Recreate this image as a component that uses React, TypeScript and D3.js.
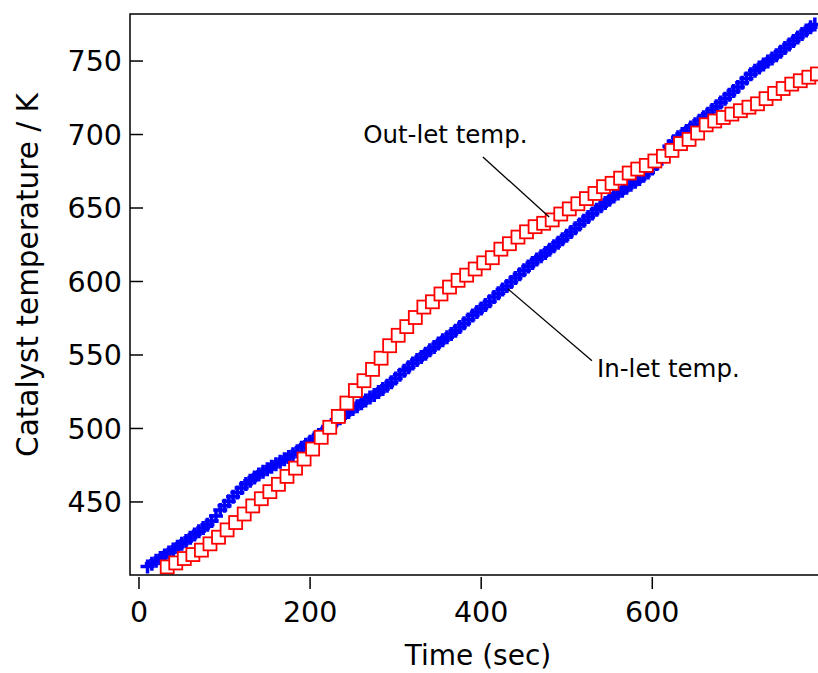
import React from "react";
import * as d3 from "d3";

const inletTimes: number[] = [
  10,15,20,25,30,35,40,45,50,55,60,65,70,75,80,85,90,95,100,105,110,115,120,125,130,135,140,145,150,155,160,165,170,175,180,185,190,195,
  200,205,210,215,220,225,230,235,240,245,250,255,260,265,270,275,280,285,290,295,300,305,310,315,320,325,330,335,340,345,350,355,360,365,370,375,380,385,390,395,
  400,405,410,415,420,425,430,435,440,445,450,455,460,465,470,475,480,485,490,495,500,505,510,515,520,525,530,535,540,545,550,555,560,565,570,575,580,585,590,595,
  600,605,610,615,620,625,630,635,640,645,650,655,660,665,670,675,680,685,690,695,700,705,710,715,720,725,730,735,740,745,750,755,760,765,770,775,780,785,790,
];
const inletTemps: number[] = [
  406,408,410,411.8,413.6,415.6,417.6,419.6,421.5,423.5,425.6,427.8,430,432.2,434.5,437,440.5,444.5,447.5,450.5,453.6,456.5,459.5,462.3,464.5,466.7,468.7,470.6,472.3,474,475.6,477.3,479,480.6,482.4,484.5,486.8,489,
  491,493.3,495.5,497.8,500,502.4,504.8,507,509.2,511.2,513.2,515.2,517.2,519.1,521,522.8,524.8,526.8,529,531.4,534,536.6,539.2,541.7,544.2,546.5,548.7,550.9,553.2,555.5,557.8,560,562,564.2,566.5,569,571.6,574.2,576.8,579.2,
  581.6,584,586.6,589.4,592,594.6,597,599.6,602.3,605,607.6,610.2,612.6,615,617.2,619.4,621.6,624,626.4,628.8,631.2,633.6,636.2,638.8,641.3,643.8,646.3,648.8,651.2,653.4,655.6,657.8,659.8,661.8,663.8,665.8,667.8,669.8,672,674.2,
  676.8,680,684,688.2,692,695.4,698.2,700.4,702.4,704.7,707,709.4,711.8,714.2,716.7,719.2,721.8,724.4,727,729.6,732.4,735.2,738.1,741,743.4,745.6,747.6,749.6,751.7,754,756.4,758.8,761.2,763.6,766,768.4,770.8,773,774.8,
];

const outletTimes: number[] = [
  33,43,53,63,73,83,93,103,113,123,133,143,153,163,173,183,193,203,213,223,233,243,253,263,273,283,293,303,313,323,333,343,353,363,373,383,393,
  403,413,423,433,443,453,463,473,483,493,503,513,523,533,543,553,563,573,583,593,603,613,623,633,643,653,663,673,683,693,703,713,723,733,743,753,763,773,783,793,
];
const outletTemps: number[] = [
  405.8,408.5,411.5,414.2,417.2,421.5,426,431,436,441.8,447.3,452.2,457,462,467.4,473,479.2,486,494,500.8,508.2,517.3,525.8,532.5,540.2,547.8,556.3,563.4,569.3,575.5,582.6,586.2,591.5,596.2,600.8,604.3,608.5,
  612.7,616.2,622,625.7,630.2,633.8,637.3,639.6,641.9,645.9,649.4,652.9,656.4,659.9,664.5,666.8,670.3,673.8,676.5,679,682,685.2,689.2,693.8,696.7,701,706.6,709.2,711.6,713.9,716.2,718.6,720.9,724.4,728,731.3,734.3,736.6,739,741.2,
];

const xTicks: number[] = [0, 200, 400, 600];
const yTicks: number[] = [450, 500, 550, 600, 650, 700, 750];
const xTitle = "Time (sec)";
const yTitle = "Catalyst temperature / K";

const outletLabel = "Out-let temp.";
const inletLabel = "In-let temp.";
// annotation anchors in data units: [textT, textY, lineFromT, lineFromY, lineToT, lineToY]
const outletNote: number[] = [262, 694.2, 402, 684.7, 479.5, 643.9];
const inletNote: number[] = [535.4, 535, 431.3, 594.9, 529.5, 546];

const W = 818;
const H = 673;
const left = 130;
const right = 818;
const top = 14;
const bottom = 575;
const FONT = "'DejaVu Sans', Verdana, sans-serif";

export default function App() {
  const x = d3.scaleLinear().domain([-10.5, 793.7]).range([left, right]);
  const y = d3.scaleLinear().domain([400.3, 782]).range([bottom, top]);

  const plus = "M-7,0H7M0,-7V7";

  return (
    <svg width={W} height={H} style={{ position: "absolute", left: 0, top: 0, background: "#fff" }}>
      <rect x={0} y={0} width={W} height={H} fill="#fff" />
      <defs>
        <clipPath id="plotclip">
          <rect x={left} y={top} width={right - left + 10} height={bottom - top} />
        </clipPath>
      </defs>
      <g clipPath="url(#plotclip)">
        {inletTimes.map((t, i) => (
          <path
            key={"b" + i}
            d={plus}
            transform={`translate(${x(t)},${y(inletTemps[i])})`}
            stroke="#0000ff"
            strokeWidth={3.5}
            fill="none"
          />
        ))}
        {outletTimes.map((t, i) => (
          <rect
            key={"r" + i}
            x={x(t) - 6.5}
            y={y(outletTemps[i]) - 6.5}
            width={13}
            height={13}
            stroke="#ff0000"
            strokeWidth={1.8}
            fill="#fff"
          />
        ))}
      </g>
      {/* frame */}
      <path d={`M${right},${top}H${left}V${bottom}H${right}`} stroke="#000" strokeWidth={1.5} fill="none" />
      {/* y ticks (inside) */}
      {yTicks.map((v) => (
        <g key={"yt" + v}>
          <line x1={left} x2={left + 13} y1={y(v)} y2={y(v)} stroke="#000" strokeWidth={1.5} />
          <text x={122} y={y(v)} dy="0.36em" textAnchor="end" fontFamily={FONT} fontSize={28.5} fill="#000">
            {v}
          </text>
        </g>
      ))}
      {/* x ticks (outside) */}
      {xTicks.map((v) => (
        <g key={"xt" + v}>
          <line x1={x(v)} x2={x(v)} y1={bottom + 2} y2={bottom + 14} stroke="#000" strokeWidth={1.5} />
          <text x={x(v)} y={622} textAnchor="middle" fontFamily={FONT} fontSize={28.5} fill="#000">
            {v}
          </text>
        </g>
      ))}
      <text x={478} y={665} textAnchor="middle" fontFamily={FONT} fontSize={28} fill="#000">
        {xTitle}
      </text>
      <text
        transform={`translate(38,${275}) rotate(-90)`}
        textAnchor="middle"
        fontFamily={FONT}
        fontSize={29.5}
        fill="#000"
      >
        {yTitle}
      </text>
      {/* annotations */}
      <text x={x(outletNote[0])} y={y(outletNote[1])} fontFamily={FONT} fontSize={24.5} fill="#000">
        {outletLabel}
      </text>
      <line
        x1={x(outletNote[2])}
        y1={y(outletNote[3])}
        x2={x(outletNote[4])}
        y2={y(outletNote[5])}
        stroke="#000"
        strokeWidth={1.3}
      />
      <text x={x(inletNote[0])} y={y(inletNote[1])} fontFamily={FONT} fontSize={24.5} fill="#000">
        {inletLabel}
      </text>
      <line
        x1={x(inletNote[2])}
        y1={y(inletNote[3])}
        x2={x(inletNote[4])}
        y2={y(inletNote[5])}
        stroke="#000"
        strokeWidth={1.3}
      />
    </svg>
  );
}
